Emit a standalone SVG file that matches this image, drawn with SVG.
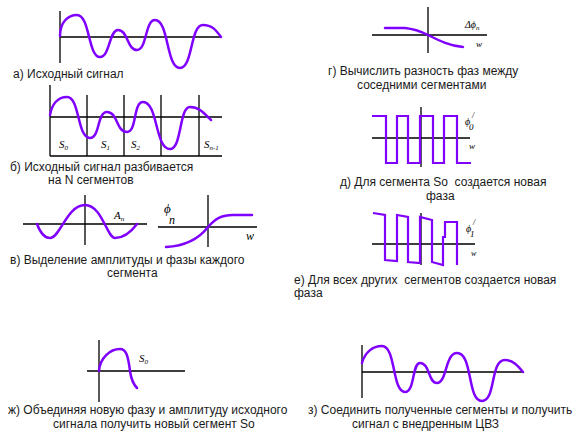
<svg xmlns="http://www.w3.org/2000/svg" width="584" height="438" viewBox="0 0 584 438">
<style>
.ax{stroke:#000;stroke-width:1.3;fill:none}
.w{stroke:#8000ff;stroke-width:2.5;fill:none;stroke-linejoin:round;stroke-linecap:round}
.sq{stroke:#8000ff;stroke-width:2.2;fill:none;stroke-linejoin:miter}
.t{font-family:"Liberation Sans",Arial,sans-serif;font-size:12px;fill:#1a1a1a}
.m{font-family:"Liberation Serif","Times New Roman",serif;font-style:italic;fill:#000}
</style>
<rect width="584" height="438" fill="#fff"/>

<g id="panel-a">
<path class="ax" d="M60,11V63M60,37H221"/>
<path class="w" d="M60,36 C60,22 68,15 77,15 C90,15 88,57 100,57 C110,57 109,30 118,30 C128,30 127,50 137,50 C147,50 145,20 155,20 C169,20 166,68 180,68 C193,68 190,25 203,25 C212,25 216,30 221,37"/>
<text class="t" x="13" y="78">а) Исходный сигнал</text>
</g>

<g id="panel-b">
<path class="ax" d="M50,85V156M50,117H222M50,156H222M87,95V156M124,95V156M161,95V156M199,95V156"/>
<path class="w" d="M50,115 C52,104 58,97 67,97 C80,97 77,138 90,138 C100,138 97,112 107,112 C118,112 116,132 127,132 C137,132 133,102 143,102 C158,102 155,149 170,149 C182,149 179,107 190,107 C199,107 204,113 211,120"/>
<text class="m" x="59" y="148" font-size="11">S<tspan font-size="7" dy="2">0</tspan></text>
<text class="m" x="101" y="148" font-size="11">S<tspan font-size="7" dy="2">1</tspan></text>
<text class="m" x="131" y="148" font-size="11">S<tspan font-size="7" dy="2">2</tspan></text>
<text class="m" x="204" y="148" font-size="11">S<tspan font-size="7" dy="2">n-1</tspan></text>
<text class="t" x="10" y="171">б) Исходный сигнал разбивается</text>
<text class="t" x="48" y="184">на N сегментов</text>
</g>

<g id="panel-v">
<path class="ax" d="M23,224H147M85,195V245"/>
<path class="w" d="M37,224 C40,232 44,238 50,238 C60,238 67,205 85,205 C102,205 107,238 115,238 C123,238 131,232 137,224"/>
<text class="m" x="114" y="219" font-size="11">A<tspan font-size="7" dy="2">n</tspan></text>
<path class="ax" d="M158,227H257M208,195V247"/>
<path class="w" d="M166,247 C185,246 198,240 208,227 C216,218 222,215 233,215 L252,215"/>
<text class="m" x="164" y="213" font-size="13">ϕ</text>
<text class="m" x="169" y="224" font-size="12">n</text>
<text class="m" x="246" y="240" font-size="12">w</text>
<text class="t" x="10" y="264">в) Выделение амплитуды и фазы каждого</text>
<text class="t" x="107" y="277">сегмента</text>
</g>

<g id="panel-zh">
<path class="ax" d="M99,340V402M87,371H185"/>
<path class="w" d="M99,371 C100,358 110,349 120,349 C126,349 128,355 130,371 C131,378 133,384 137,388"/>
<text class="m" x="139" y="362" font-size="11">S<tspan font-size="7" dy="2">0</tspan></text>
<text class="t" x="8" y="414">ж) Объединяя новую фазу и амплитуду исходного</text>
<text class="t" x="53" y="428">сигнала получить новый сегмент So</text>
</g>

<g id="panel-g">
<path class="ax" d="M372,35H487M428,7V53"/>
<path class="w" d="M385,28 L405,28 C415,29 420,31 428,35 C440,41 450,46 463,47"/>
<text class="m" x="465" y="28" font-size="10">Δϕ<tspan font-size="7" dy="2">n</tspan></text>
<text class="m" x="476" y="47" font-size="9">w</text>
<text class="t" x="328" y="75">г) Вычислить разность фаз между</text>
<text class="t" x="357" y="89">соседними сегментами</text>
</g>

<g id="panel-d">
<path class="ax" d="M372,138H470M421,107V167"/>
<path class="sq" d="M372,116H386V163H397V116H408V163H420V116H433V163H444V116H457V163H471"/>
<text class="m" x="465" y="125" font-size="10">ϕ</text>
<text class="m" x="472" y="118" font-size="8">/</text>
<text class="m" x="469" y="130" font-size="9" font-style="normal">0</text>
<text class="m" x="469" y="149" font-size="9">w</text>
<text class="t" x="340" y="186">д) Для сегмента So&#160; создается новая</text>
<text class="t" x="426" y="200">фаза</text>
</g>

<g id="panel-e">
<path class="ax" d="M372,244H475M421,213V265"/>
<path class="sq" d="M373,213L385,215V260L397,261V215L408,217V262L420,263V217L432,220V262L443,265V237H445V222H457V265"/>
<text class="m" x="466" y="232" font-size="10">ϕ</text>
<text class="m" x="473" y="225" font-size="8">/</text>
<text class="m" x="470" y="237" font-size="9" font-style="normal">1</text>
<text class="m" x="471" y="256" font-size="8">w</text>
<text class="t" x="294" y="284">е) Для всех других&#160; сегментов создается новая</text>
<text class="t" x="294" y="297">фаза</text>
</g>

<g id="panel-z">
<path class="ax" d="M362,345V398M362,372H523"/>
<path class="w" d="M362,363 C365,352 373,346 382,346 C396,346 392,392 405,392 C415,392 412,363 420,363 C430,363 428,383 437,383 C447,383 445,353 457,353 C473,353 467,401 482,401 C496,401 490,360 505,360 C513,360 518,366 523,372"/>
<text class="t" x="308" y="414">з) Соединить полученные сегменты и получить</text>
<text class="t" x="352" y="428">сигнал с внедренным ЦВЗ</text>
</g>

<g id="connectors"></g>
</svg>
